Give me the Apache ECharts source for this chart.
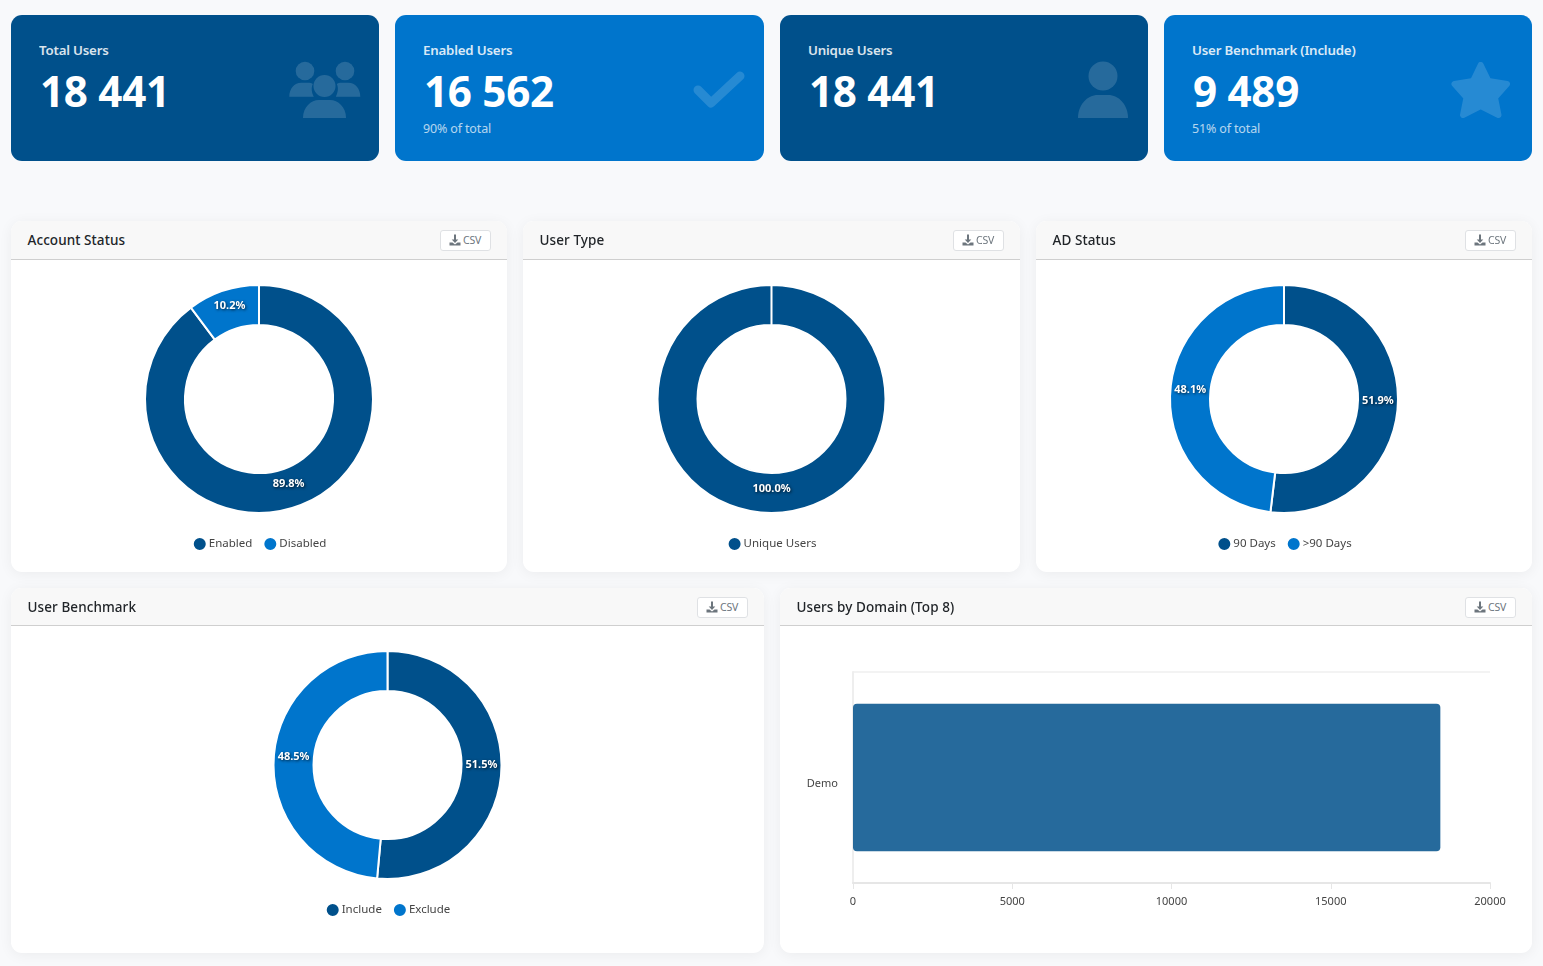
<!DOCTYPE html>
<html lang="en">
<head>
<meta charset="utf-8">
<title>User Overview</title>
<script src="https://cdn.jsdelivr.net/npm/echarts@6/dist/echarts.min.js"></script>
<style>
  html, body { margin: 0; padding: 0; width: 1543px; height: 966px; overflow: hidden; background: #f8f9fb;
    font-family: "Noto Sans", "Open Sans", sans-serif; }
  .kpi { position: absolute; top: 15px; height: 146px; border-radius: 11px; color: #fff; box-sizing: border-box; }
  .kpi.dark { background: #00508b; }
  .kpi.light { background: #0075cc; }
  .kpi .label { position: absolute; left: 28px; top: 26px; font-size: 13.3px; font-weight: 600; line-height: 18px; opacity: .85; letter-spacing: -.2px; white-space: nowrap; }
  .kpi .value { position: absolute; left: 29px; top: 46px; font-size: 42.2px; font-weight: 700; line-height: 60px; letter-spacing: -.3px; white-space: nowrap; }
  .kpi .note { position: absolute; left: 28px; top: 105px; font-size: 12.5px; line-height: 18px; opacity: .7; letter-spacing: -.15px; white-space: nowrap; }
  .kpi svg { position: absolute; fill: #fff; opacity: .15; }
  .panel { position: absolute; background: #fff; border-radius: 11px; box-shadow: 0 2px 14px rgba(0,0,0,.055); overflow: hidden; }
  .panel .head { position: absolute; left: 0; right: 0; top: 0; background: #f8f8f8; border-bottom: 1px solid #cfcfcf; }
  .panel .title { position: absolute; left: 16.5px; top: 9px; font-size: 13.5px; font-weight: 500; line-height: 20px; color: #212529; letter-spacing: .08px; white-space: nowrap; }
  .panel .csv { position: absolute; right: 16px; top: 9px; width: 51px; height: 21px; box-sizing: border-box; border: 1px solid #dfe1e4; border-radius: 3px; background: #fff;
    font-size: 10.5px; line-height: 19px; color: #6c757d; padding-left: 22px; letter-spacing: -.2px; }
  .panel .csv svg { position: absolute; left: 8px; top: 3px; fill: #6c757d; }
  .panel .plot { position: absolute; left: 0; right: 0; bottom: 0; }
</style>
</head>
<body>
<script>
// Headline figures
const kpiLabels = ['Total Users', 'Enabled Users', 'Unique Users', 'User Benchmark (Include)'];
const kpiValues = ['18 441', '16 562', '18 441', '9 489'];
const kpiNotes = ['', '90% of total', '', '51% of total'];

// Donut panels
const accountNames = ['Enabled', 'Disabled'];
const accountValues = [16562, 1879];
const typeNames = ['Unique Users'];
const typeValues = [18441];
const adNames = ['90 Days', '>90 Days'];
const adValues = [9571, 8870];
const benchmarkNames = ['Include', 'Exclude'];
const benchmarkValues = [9489, 8952];

// Domain bar panel
const domainNames = ['Demo'];
const domainValues = [18441];

const DARK = '#00508b';
const LIGHT = '#0075cc';
const FONT = '"Noto Sans", "Open Sans", sans-serif';

// Card watermark glyphs
const icons = {
  people: '<circle cx="20" cy="21" r="9.3"/><circle cx="60" cy="21" r="9.3"/><circle cx="39.5" cy="36" r="11"/>' +
    '<path d="M4.3 46.700c0-8 5-14 12-14h6c3 0 4.500.5 5.500 1.300c-2 4-1 9 1 12.700z"/>' +
    '<path d="M75.300 46.700c0-8-5-14-12-14h-6c-3 0-4.500.5-5.500 1.300c2 4 1 9-1 12.700z"/>' +
    '<path d="M18 68c0-11 8-18 16-18h11c8 0 16 7 16 18z"/>',
  check: '<path d="M13 40L26 53L55 26" fill="none" stroke="#fff" stroke-width="9" stroke-linecap="round" stroke-linejoin="round"/>',
  person: '<circle cx="43" cy="26" r="14.500"/><path d="M18 68c0-13 9-23 20-23h10c11 0 20 10 20 23z"/>',
  star: '<path d="M40.700 15L48.500 31L67 34L55 47.500L58.500 65L40.700 56L23 65L26.500 47.500L14.500 34L33 31z" stroke="#fff" stroke-width="6" stroke-linejoin="round"/>'
};

const kpiBoxes = [
  { left: 11, width: 368, tone: 'dark', icon: 'people', iconX: 274 },
  { left: 395, width: 369, tone: 'light', icon: 'check', iconX: 290 },
  { left: 780, width: 368, tone: 'dark', icon: 'person', iconX: 280 },
  { left: 1164, width: 368, tone: 'light', icon: 'star', iconX: 276 }
];

kpiBoxes.forEach((box, i) => {
  const el = document.createElement('div');
  el.className = 'kpi ' + box.tone;
  el.style.left = box.left + 'px';
  el.style.width = box.width + 'px';
  el.innerHTML =
    '<div class="label">' + kpiLabels[i] + '</div>' +
    '<div class="value">' + kpiValues[i] + '</div>' +
    (kpiNotes[i] ? '<div class="note">' + kpiNotes[i] + '</div>' : '') +
    '<svg width="90" height="90" viewBox="0 0 90 90" style="left:' + box.iconX + 'px;top:35px">' + icons[box.icon] + '</svg>';
  document.body.appendChild(el);
});

const downloadIcon = '<svg width="12" height="12" viewBox="0 0 12 12"><path d="M5 .5h2v5h2.300L6 9 2.700 5.500H5z"/><path d="M.5 8.500h3L6 10.500l2.500-2h3v3h-11z"/></svg>';

function addPanel(title, left, top, width, height, headHeight) {
  const el = document.createElement('div');
  el.className = 'panel';
  el.style.cssText = 'left:' + left + 'px;top:' + top + 'px;width:' + width + 'px;height:' + height + 'px';
  el.innerHTML = '<div class="head" style="height:' + headHeight + 'px"></div><div class="title">' + title + '</div>' +
    '<div class="csv">' + downloadIcon + 'CSV</div><div class="plot" style="top:' + (headHeight + 1) + 'px"></div>';
  document.body.appendChild(el);
  return echarts.init(el.querySelector('.plot'), null, { renderer: 'canvas' });
}

function donut(chart, names, values, palette) {
  const slices = names.map((name, i) => ({ name, value: values[i] }));
  chart.setOption({
    animation: false,
    color: palette,
    legend: {
      data: names,
      top: 271,
      left: 'center',
      icon: 'circle',
      itemWidth: 14,
      itemHeight: 14,
      itemGap: 10,
      textStyle: { fontFamily: FONT, fontSize: 11.5, color: '#444', letterSpacing: -0.3, padding: [2, 0, 0, -3] }
    },
    series: [{
      type: 'pie',
      center: ['50%', 139],
      radius: [74, 114],
      startAngle: 90,
      clockwise: true,
      // A tiny pad keeps a lone slice drawn as a sector, so its seam stays visible at twelve o'clock
      padAngle: names.length === 1 ? 0.02 : 0,
      avoidLabelOverlap: false,
      itemStyle: { borderColor: '#fff', borderWidth: 2 },
      label: { show: false },
      labelLine: { show: false },
      emphasis: { disabled: true },
      data: slices
    }, {
      // Invisible twin of the ring that seats the percentages slightly inward of its mid-line
      type: 'pie',
      center: ['50%', 139],
      radius: [74, 108],
      startAngle: 90,
      clockwise: true,
      silent: true,
      avoidLabelOverlap: false,
      itemStyle: { color: 'rgba(0,0,0,0)', borderWidth: 0 },
      label: {
        position: 'inside',
        formatter: p => p.percent.toFixed(1) + '%',
        color: '#fff',
        fontFamily: FONT,
        fontSize: 11,
        fontWeight: 700,
        letterSpacing: -0.5,
        offset: [0, -4],
        textShadowColor: 'rgba(0,0,0,.75)',
        textShadowBlur: 3,
        textShadowOffsetX: 1,
        textShadowOffsetY: 1
      },
      labelLine: { show: false },
      emphasis: { disabled: true },
      data: slices
    }]
  });
}

donut(addPanel('Account Status', 11, 221, 496, 351, 38), accountNames, accountValues, [DARK, LIGHT]);
donut(addPanel('User Type', 523, 221, 497, 351, 38), typeNames, typeValues, [DARK]);
donut(addPanel('AD Status', 1036, 221, 496, 351, 38), adNames, adValues, [DARK, LIGHT]);
donut(addPanel('User Benchmark', 11, 588, 753, 365, 37), benchmarkNames, benchmarkValues, [DARK, LIGHT]);

const barChart = addPanel('Users by Domain (Top 8)', 780, 588, 752, 365, 37);
barChart.setOption({
  animation: false,
  grid: { left: 73, right: 42, top: 46, bottom: 70 },
  xAxis: {
    type: 'value',
    min: 0,
    max: 20000,
    interval: 5000,
    axisLine: { show: true, lineStyle: { color: '#e6e6e6', width: 2 } },
    axisTick: { show: true, length: 6, lineStyle: { color: '#e6e6e6' } },
    axisLabel: { fontFamily: FONT, fontSize: 11, color: '#444', margin: 13, letterSpacing: -0.2, formatter: v => String(v) },
    splitLine: { show: false }
  },
  yAxis: {
    type: 'category',
    data: domainNames,
    axisLine: { show: true, lineStyle: { color: '#eeeeee', width: 2 } },
    axisTick: { show: false },
    axisLabel: { fontFamily: FONT, fontSize: 11, color: '#444', margin: 15, letterSpacing: -0.2, verticalAlign: 'top', padding: [1, 0, 0, 0] },
    splitLine: { show: true, lineStyle: { color: '#f3f3f3', width: 2 } }
  },
  series: [{
    type: 'bar',
    data: domainValues,
    barWidth: '70%',
    itemStyle: { color: DARK, opacity: 0.85, borderRadius: 4 }
  }]
});
</script>
</body>
</html>
